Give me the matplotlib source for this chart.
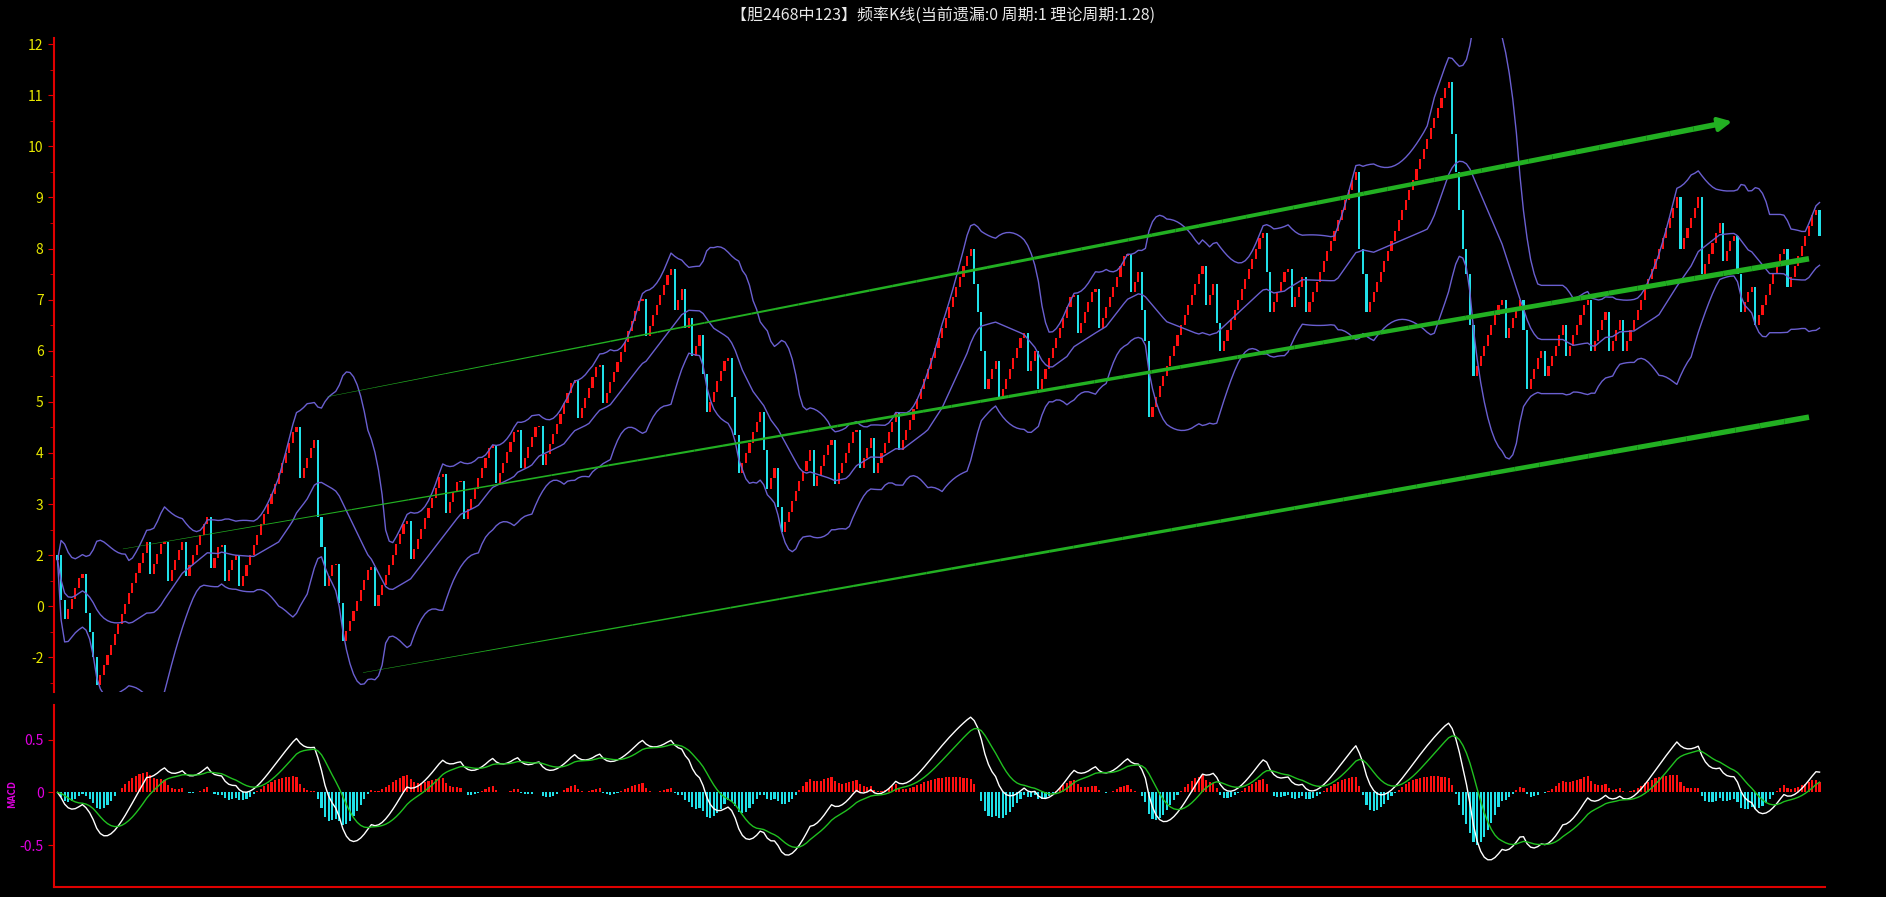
import numpy as np
import pandas as pd
import matplotlib
matplotlib.use('Agg')
import matplotlib.pyplot as plt
from matplotlib.collections import LineCollection

plt.rcParams['font.family'] = ['Noto Sans CJK SC', 'DejaVu Sans']

titulo = '【胆2468中123】频率K线(当前遗漏:0 周期:1 理论周期:1.28)'

# pontos de virada da serie: subida = velas vermelhas de passo fixo, queda = vela ciano
pivos = [2, 1.125, 0.75, 1.625, 0.875, 0.5, 0, -0.55, 2.25, 1.625, 2.25, 1.5, 2.25,
         1.6, 2.75, 1.75, 2.2, 1.5, 2.0, 1.4, 4.5, 3.5, 4.25, 2.75, 2.15, 1.4, 1.82,
         1.07, 0.31, 1.76, 1.01, 2.67, 1.92, 3.58, 2.83, 3.45, 2.7, 4.16, 3.41, 4.45,
         3.71, 4.52, 3.77, 5.43, 4.68, 5.72, 4.98, 7.02, 6.29,
         7.6, 6.8, 7.2, 6.45, 6.65, 5.9, 6.3, 5.55, 4.8, 5.85, 5.1, 4.35, 3.6, 4.8,
         4.05, 3.3, 3.7, 2.95, 2.45, 4.05, 3.35, 4.25, 3.4, 4.45, 3.7, 4.3, 3.6, 4.8,
         4.05, 8.0, 7.3, 6.75, 6.0, 5.25, 5.8, 5.05, 6.35, 5.6, 6.0, 5.25, 7.1, 6.35,
         7.2, 6.45, 7.9, 7.15, 7.55, 6.8, 6.2, 4.7, 7.65, 6.9, 7.3, 6.55, 6.0, 8.3,
         7.55, 6.75, 7.6, 6.85, 7.45, 6.75, 9.5, 8.0, 7.5, 6.75, 11.25,
         10.25, 9.5, 8.75, 8.0, 7.5, 6.5, 5.5, 7.0, 6.25, 7.0, 6.4, 5.25, 6.0, 5.5,
         6.5, 5.9, 7.0, 6.0, 6.75, 6.0, 6.6, 6.0,
         9.0, 8.0, 9.0, 7.5, 8.5, 7.75, 8.25, 7.5, 6.75, 7.25, 6.5, 8.0, 7.25, 8.75,
         8.25]
passo = 0.2

# rotulos do eixo y como aparecem no original
ticks_y = list(range(0, 13))
rotulos_y = ['-2', '0', '2', '3', '4', '5', '6', '7', '8', '9', '10', '11', '12']

# setas verdes: (fracao x inicio, valor inicio, fracao x fim, valor fim)
setas = [(0.153, 5.1, 0.94, 10.43),
         (0.037, 2.12, 0.992, 7.8),
         (0.173, -0.3, 0.992, 4.7)]

# monta as velas
aberturas, fechamentos = [pivos[0]], [pivos[0] - 0.1]
atual = pivos[0]
for alvo in pivos[1:]:
    if alvo > atual:
        while atual < alvo - 1e-9:
            aberturas.append(atual)
            atual = min(atual + passo, alvo)
            fechamentos.append(atual)
    else:
        aberturas.append(atual)
        fechamentos.append(alvo)
        atual = alvo
aberturas = np.array(aberturas)
fechamentos = np.array(fechamentos)
N = len(fechamentos)
idx = np.arange(N)

s = pd.Series(fechamentos)
media = s.rolling(20, min_periods=1).mean()
desvio = s.rolling(20, min_periods=1).std(ddof=0).fillna(0)
superior = media + 2 * desvio
inferior = media - 2 * desvio

dif = s.ewm(span=12, adjust=False).mean() - s.ewm(span=26, adjust=False).mean()
dea = dif.ewm(span=9, adjust=False).mean()
hist = (dif - dea) * 0.8

fig = plt.figure(figsize=(18.86, 8.97), dpi=100, facecolor='black')
ax = fig.add_axes([0.0286, 0.2285, 0.939, 0.7291], facecolor='black')
ax2 = fig.add_axes([0.0286, 0.011, 0.939, 0.203], facecolor='black')

for a in (ax, ax2):
    for lado in ('top', 'right'):
        a.spines[lado].set_visible(False)
    a.spines['left'].set_color('#e00000')
    a.spines['left'].set_linewidth(1.5)
    a.set_xlim(-1, N + 0.5)
    a.set_xticks([])
ax.spines['bottom'].set_visible(False)
ax2.spines['bottom'].set_color('#e00000')
ax2.spines['bottom'].set_linewidth(1.5)

# velas
subida = fechamentos >= aberturas
cores = np.where(subida, '#ff1010', '#20e0e8')
base = np.minimum(aberturas, fechamentos)
altura = np.abs(fechamentos - aberturas)
ax.bar(idx, altura, bottom=base, width=0.6, color=cores, linewidth=0)

ax.plot(idx, superior, color='#6a5fd0', lw=1)
ax.plot(idx, media, color='#6a5fd0', lw=1)
ax.plot(idx, inferior, color='#6a5fd0', lw=1)

for fx0, y0, fx1, y1 in setas:
    xs = np.linspace(fx0 * N, fx1 * N, 60)
    ys = np.linspace(y0, y1, 60)
    pts = np.array([xs, ys]).T.reshape(-1, 1, 2)
    seg = np.concatenate([pts[:-1], pts[1:]], axis=1)
    lc = LineCollection(seg, colors='#22b022', linewidths=np.linspace(0.3, 4, 59))
    ax.add_collection(lc)
    ax.annotate('', xy=(xs[-1] + 0.01 * N, ys[-1] + (y1 - y0) / (fx1 - fx0) * 0.01),
                xytext=(xs[-1], ys[-1]),
                arrowprops=dict(arrowstyle='-|>,head_length=0.8,head_width=0.4',
                                color='#22b022', lw=3))

ax.set_ylim(-0.68, 12.12)
ax.set_yticks(ticks_y)
ax.set_yticklabels(rotulos_y)
ax.set_yticks(np.arange(-0.5, 12.5, 1), minor=True)
ax.tick_params(axis='y', colors='#e00000', labelcolor='#e8e800', labelsize=10, length=4)
ax.tick_params(axis='y', which='minor', colors='#e00000', length=3)

# MACD
cores_h = np.where(hist >= 0, '#ff1010', '#20e0e8')
ax2.bar(idx, hist, width=0.6, color=cores_h, linewidth=0)
ax2.plot(idx, dif * 0.8, color='white', lw=1)
ax2.plot(idx, dea * 0.8, color='#20c020', lw=1)
ax2.set_ylim(-0.9, 0.83)
ax2.set_yticks([-0.5, 0, 0.5])
ax2.set_yticklabels(['-0.5', '0', '0.5'])
ax2.tick_params(axis='y', colors='#e00000', labelcolor='#e000e0', labelsize=10, length=4)
fig.text(0.004, 0.115, 'MACD', color='#e000e0', fontsize=7, rotation=90,
         va='center', fontweight='bold')

fig.text(0.5, 0.983, titulo, color='#e8e8e8', fontsize=11.5, ha='center', va='center',
         family=['Noto Sans CJK SC', 'DejaVu Sans Mono'])

fig.savefig('out.png', facecolor='black')
